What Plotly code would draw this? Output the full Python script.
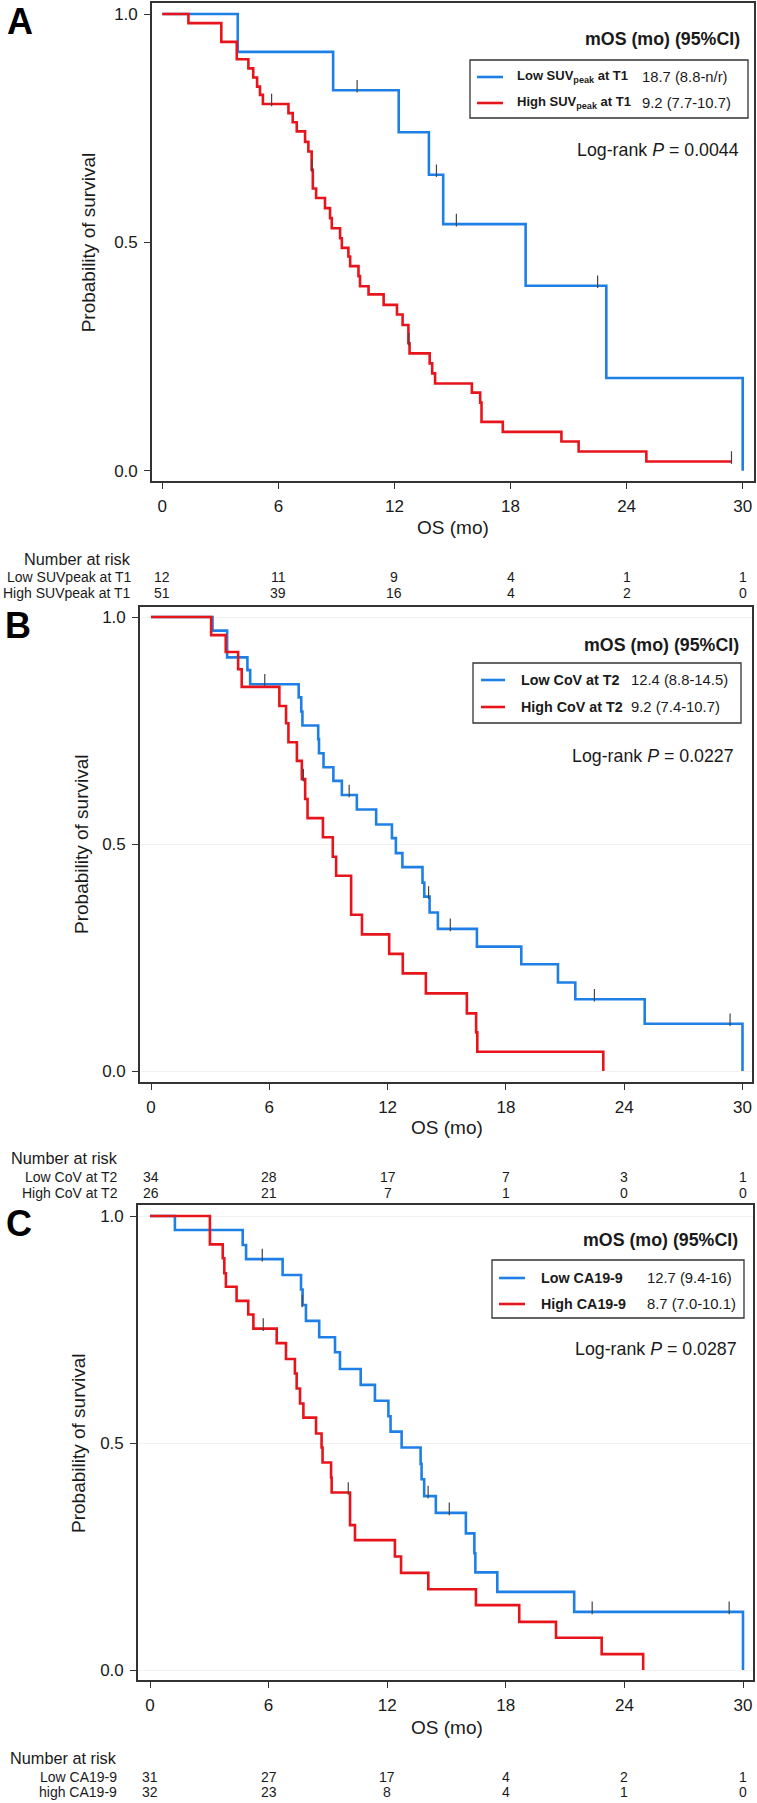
import plotly.graph_objects as go

W, H = 757, 1803

# ---- Panel A : SUVpeak at T1 ----
a_low_t = [0, 3.9, 8.83, 12.22, 13.78, 14.52, 18.78, 22.95, 30.0]
a_low_s = [1.0, 0.917, 0.833, 0.741, 0.648, 0.540, 0.405, 0.203, 0.0]
a_low_cens_t = [10.07, 14.17, 15.2, 22.5]
a_low_cens_s = [0.833, 0.648, 0.540, 0.405]

a_high_t = [0, 1.35, 3.05, 3.85, 4.45, 4.7, 4.9, 5.05, 5.2, 6.52, 6.74, 6.95, 7.38, 7.55,
            7.72, 7.78, 7.95, 8.41, 8.67, 8.76, 9.19, 9.28, 9.62, 9.71, 10.14, 10.22, 10.66,
            11.44, 12.13, 12.42, 12.72, 12.78, 13.82, 13.95, 14.1, 16.0, 16.43, 16.5, 17.6,
            20.63, 21.52, 25.02, 29.42]
a_high_s = [1.0, 0.980, 0.939, 0.901, 0.881, 0.861, 0.841, 0.823, 0.803, 0.783, 0.763, 0.743,
            0.720, 0.699, 0.659, 0.618, 0.597, 0.575, 0.553, 0.531, 0.509, 0.488, 0.469, 0.448,
            0.426, 0.404, 0.386, 0.363, 0.342, 0.319, 0.279, 0.257, 0.235, 0.213, 0.191, 0.171,
            0.149, 0.107, 0.085, 0.064, 0.042, 0.020, 0.020]
a_high_cens_t = [5.65, 7.74, 12.75, 29.42]
a_high_cens_s = [0.803, 0.659, 0.279, 0.020]

# ---- Panel B : CoV at T2 ----
b_low_t = [0, 3.12, 3.86, 4.89, 5.03, 7.49, 7.62, 7.68, 8.48, 8.52, 8.75, 9.25, 9.68, 10.44,
           11.42, 12.22, 12.42, 12.75, 13.77, 13.86, 14.13, 14.55, 16.53, 18.78, 20.64, 21.52,
           25.04, 30.0]
b_low_s = [1.0, 0.970, 0.911, 0.883, 0.852, 0.823, 0.792, 0.761, 0.731, 0.700, 0.669, 0.639,
           0.608, 0.576, 0.543, 0.513, 0.480, 0.449, 0.415, 0.384, 0.349, 0.313, 0.274, 0.235,
           0.195, 0.158, 0.104, 0.0]
b_low_cens_t = [5.77, 10.05, 14.08, 15.18, 22.49, 29.37]
b_low_cens_s = [0.852, 0.608, 0.384, 0.313, 0.158, 0.104]

b_high_t = [0, 3.05, 3.79, 4.42, 4.6, 6.51, 6.85, 6.97, 7.4, 7.65, 7.82, 7.94, 8.72, 9.22,
            9.39, 10.15, 10.7, 12.08, 12.77, 13.94, 16.02, 16.49, 16.55, 22.94]
b_high_s = [1.0, 0.960, 0.923, 0.885, 0.846, 0.804, 0.766, 0.724, 0.683, 0.643, 0.599, 0.557,
            0.515, 0.472, 0.430, 0.344, 0.301, 0.258, 0.215, 0.171, 0.127, 0.085, 0.0425, 0.0]
b_high_cens_t = [7.73]
b_high_cens_s = [0.643]

# ---- Panel C : CA19-9 ----
c_low_t = [0, 1.26, 4.69, 4.86, 6.71, 7.64, 7.72, 7.89, 8.56, 9.36, 9.61, 10.66, 11.38, 12.06,
           12.17, 12.73, 13.69, 13.74, 13.87, 14.46, 15.98, 16.41, 16.46, 17.57, 21.46, 30.0]
c_low_s = [1.0, 0.969, 0.936, 0.905, 0.870, 0.838, 0.804, 0.769, 0.733, 0.700, 0.663, 0.628,
           0.593, 0.559, 0.525, 0.490, 0.454, 0.420, 0.383, 0.346, 0.301, 0.257, 0.215, 0.172,
           0.128, 0.0]
c_low_cens_t = [5.68, 7.7, 14.07, 15.14, 22.37, 29.3]
c_low_cens_s = [0.905, 0.804, 0.383, 0.346, 0.128, 0.128]

c_high_t = [0, 3.03, 3.68, 3.76, 3.84, 4.38, 4.97, 5.23, 6.41, 6.88, 7.33, 7.42, 7.59, 7.76,
            8.40, 8.68, 8.73, 9.16, 9.19, 10.12, 10.37, 12.39, 12.7, 14.08, 16.49, 18.68,
            20.54, 22.85, 24.95]
c_high_s = [1.0, 0.9375, 0.907, 0.874, 0.844, 0.813, 0.783, 0.752, 0.720, 0.685, 0.653, 0.620,
            0.587, 0.556, 0.521, 0.490, 0.457, 0.424, 0.391, 0.319, 0.286, 0.250, 0.214, 0.178,
            0.143, 0.106, 0.071, 0.035, 0.0]
c_high_cens_t = [5.73, 10.03]
c_high_cens_s = [0.752, 0.391]

# ---- text / risk tables ----
risk_times = [0, 6, 12, 18, 24, 30]
a_risk_labels = ["Low SUVpeak at T1", "High SUVpeak at T1"]
a_risk_low = [12, 11, 9, 4, 1, 1]
a_risk_high = [51, 39, 16, 4, 2, 0]
b_risk_labels = ["Low CoV at T2", "High CoV at T2"]
b_risk_low = [34, 28, 17, 7, 3, 1]
b_risk_high = [26, 21, 7, 1, 0, 0]
c_risk_labels = ["Low CA19-9", "high CA19-9"]
c_risk_low = [31, 27, 17, 4, 2, 1]
c_risk_high = [32, 23, 8, 4, 1, 0]

a_legend_labels = ["Low SUV<sub>peak</sub> at T1", "High SUV<sub>peak</sub> at T1"]
a_legend_values = ["18.7 (8.8-n/r)", "9.2 (7.7-10.7)"]
b_legend_labels = ["Low CoV at T2", "High CoV at T2"]
b_legend_values = ["12.4 (8.8-14.5)", "9.2 (7.4-10.7)"]
c_legend_labels = ["Low CA19-9", "High CA19-9"]
c_legend_values = ["12.7 (9.4-16)", "8.7 (7.0-10.1)"]
p_values = ["0.0044", "0.0227", "0.0287"]
panel_letters = ["A", "B", "C"]

BLUE = "#1E80E6"
RED = "#E8141B"
FONT = "Liberation Sans, Arial, sans-serif"
TXT = "#1a1a1a"


def px_x(p):
    return p / W


def px_y(p):
    return 1 - p / H


# pixel geometry of each panel (layout only)
panels = [
    dict(ax="", left=152, right=754, top=3, bottom=481, x0=162.3, x30=742.7, s1=14, s0=470.7,
         grid=False, letter=(20, 22), ytitle_x=88, xtitle_y=528,
         risk_y=(559, 577, 593), risk_right=133,
         mos=(742, 39), box=(470, 60, 748, 118), sample=(477, 503), rows=(77, 103),
         label_x=515, label_size=13.0, value_x=640, logrank=(741, 150),
         curves=[(a_low_t, a_low_s, a_low_cens_t, a_low_cens_s, BLUE),
                 (a_high_t, a_high_s, a_high_cens_t, a_high_cens_s, RED)],
         risk=(a_risk_labels, a_risk_low, a_risk_high),
         legend=(a_legend_labels, a_legend_values)),
    dict(ax="2", left=140, right=752, top=607, bottom=1082, x0=151, x30=742.5, s1=617, s0=1071,
         grid=True, letter=(18, 625), ytitle_x=82, xtitle_y=1127,
         risk_y=(1158, 1177, 1193), risk_right=120,
         mos=(741, 645), box=(473, 663, 741, 723), sample=(481, 505), rows=(680, 707),
         label_x=519, label_size=14.3, value_x=629, logrank=(736, 756),
         curves=[(b_low_t, b_low_s, b_low_cens_t, b_low_cens_s, BLUE),
                 (b_high_t, b_high_s, b_high_cens_t, b_high_cens_s, RED)],
         risk=(b_risk_labels, b_risk_low, b_risk_high),
         legend=(b_legend_labels, b_legend_values)),
    dict(ax="3", left=138, right=753, top=1205, bottom=1680, x0=150, x30=743, s1=1216, s0=1670,
         grid=True, letter=(19, 1223), ytitle_x=78, xtitle_y=1727,
         risk_y=(1758, 1777, 1792), risk_right=119,
         mos=(740, 1240), box=(492, 1260, 744, 1318), sample=(499, 525), rows=(1278, 1304),
         label_x=539, label_size=14.3, value_x=645, logrank=(739, 1349),
         curves=[(c_low_t, c_low_s, c_low_cens_t, c_low_cens_s, BLUE),
                 (c_high_t, c_high_s, c_high_cens_t, c_high_cens_s, RED)],
         risk=(c_risk_labels, c_risk_low, c_risk_high),
         legend=(c_legend_labels, c_legend_values)),
]

fig = go.Figure()
annotations = []
shapes = []
layout_axes = {}

for i, p in enumerate(panels):
    xname, yname = "x" + p["ax"], "y" + p["ax"]
    xs = (p["x30"] - p["x0"]) / 30.0
    ys = p["s0"] - p["s1"]
    xr = [(p["left"] - p["x0"]) / xs, (p["right"] - p["x0"]) / xs]
    yr = [(p["s0"] - p["bottom"]) / ys, (p["s0"] - p["top"]) / ys]
    tick_off = 4.0 / ys

    for t, s, ct, cs, col in p["curves"]:
        fig.add_trace(go.Scatter(
            x=t, y=s, mode="lines", line=dict(color=col, width=2.6, shape="hv"),
            xaxis=xname, yaxis=yname, showlegend=False, hoverinfo="skip"))
        fig.add_trace(go.Scatter(
            x=ct, y=[v + tick_off for v in cs], mode="markers",
            marker=dict(symbol="line-ns", size=9, line=dict(width=1.2, color="#444")),
            xaxis=xname, yaxis=yname, showlegend=False, hoverinfo="skip"))

    layout_axes["xaxis" + p["ax"]] = dict(
        domain=[px_x(p["left"]), px_x(p["right"])], range=xr, anchor=yname,
        tickvals=risk_times, ticks="outside", ticklen=6, tickwidth=1.3, tickcolor="#333",
        showline=True, linecolor="#333", linewidth=1.6, mirror=True,
        showgrid=False, zeroline=False, ticklabelstandoff=3,
        tickfont=dict(family=FONT, size=17, color=TXT), fixedrange=True)
    layout_axes["yaxis" + p["ax"]] = dict(
        domain=[px_y(p["bottom"]), px_y(p["top"])], range=yr, anchor=xname,
        tickvals=[0, 0.5, 1.0], ticktext=["0.0", "0.5", "1.0"],
        ticks="outside", ticklen=6, tickwidth=1.3, tickcolor="#333",
        showline=True, linecolor="#333", linewidth=1.6, mirror=True,
        showgrid=p["grid"], gridcolor="#f1f1f1", gridwidth=1, zeroline=False,
        ticklabelstandoff=3,
        tickfont=dict(family=FONT, size=17, color=TXT), fixedrange=True)

    # panel letter
    annotations.append(dict(
        x=px_x(p["letter"][0]), y=px_y(p["letter"][1]), xref="paper", yref="paper",
        text="<b>%s</b>" % panel_letters[i], showarrow=False,
        font=dict(family=FONT, size=36, color="black"), xanchor="center", yanchor="middle"))
    # axis titles
    annotations.append(dict(
        x=px_x(p["ytitle_x"]), y=0.5, xref="paper", yref=yname,
        text="Probability of survival", textangle=-90, showarrow=False,
        font=dict(family=FONT, size=19, color=TXT), xanchor="center", yanchor="middle"))
    annotations.append(dict(
        x=15, y=px_y(p["xtitle_y"]), xref=xname, yref="paper", text="OS (mo)",
        showarrow=False, font=dict(family=FONT, size=19, color=TXT),
        xanchor="center", yanchor="middle"))

    # mOS header, legend box, log-rank
    annotations.append(dict(
        x=px_x(p["mos"][0]), y=px_y(p["mos"][1]), xref="paper", yref="paper",
        text="<b>mOS (mo) (95%CI)</b>", showarrow=False,
        font=dict(family=FONT, size=17.8, color=TXT), xanchor="right", yanchor="middle"))
    bx0, by0, bx1, by1 = p["box"]
    shapes.append(dict(type="rect", xref="paper", yref="paper",
                       x0=px_x(bx0), x1=px_x(bx1), y0=px_y(by1), y1=px_y(by0),
                       line=dict(color="#333", width=1.3), fillcolor="rgba(0,0,0,0)"))
    labels, values = p["legend"]
    for row_y, col, lab, val in zip(p["rows"], [BLUE, RED], labels, values):
        shapes.append(dict(type="line", xref="paper", yref="paper",
                           x0=px_x(p["sample"][0]), x1=px_x(p["sample"][1]),
                           y0=px_y(row_y), y1=px_y(row_y), line=dict(color=col, width=2.6)))
        annotations.append(dict(
            x=px_x(p["label_x"]), y=px_y(row_y), xref="paper", yref="paper",
            text="<b>%s</b>" % lab, showarrow=False,
            font=dict(family=FONT, size=p["label_size"], color=TXT),
            xanchor="left", yanchor="middle"))
        annotations.append(dict(
            x=px_x(p["value_x"]), y=px_y(row_y), xref="paper", yref="paper",
            text=val, showarrow=False,
            font=dict(family=FONT, size=14.8, color=TXT), xanchor="left", yanchor="middle"))
    annotations.append(dict(
        x=px_x(p["logrank"][0]), y=px_y(p["logrank"][1]), xref="paper", yref="paper",
        text="Log-rank <i>P</i> = %s" % p_values[i], showarrow=False,
        font=dict(family=FONT, size=17.8, color=TXT), xanchor="right", yanchor="middle"))

    # number at risk table
    ny, r1, r2 = p["risk_y"]
    annotations.append(dict(
        x=px_x(p["risk_right"]), y=px_y(ny), xref="paper", yref="paper",
        text="Number at risk", showarrow=False,
        font=dict(family=FONT, size=16.3, color=TXT), xanchor="right", yanchor="middle"))
    rlabels, rlow, rhigh = p["risk"]
    for row_y, lab, counts in [(r1, rlabels[0], rlow), (r2, rlabels[1], rhigh)]:
        annotations.append(dict(
            x=px_x(p["risk_right"]), y=px_y(row_y), xref="paper", yref="paper",
            text=lab, showarrow=False,
            font=dict(family=FONT, size=14, color=TXT), xanchor="right", yanchor="middle"))
        for tm, n in zip(risk_times, counts):
            annotations.append(dict(
                x=tm, y=px_y(row_y), xref=xname, yref="paper", text=str(n),
                showarrow=False, font=dict(family=FONT, size=14, color=TXT),
                xanchor="center", yanchor="middle"))

fig.update_layout(
    width=W, height=H,
    margin=dict(l=0, r=0, t=0, b=0),
    paper_bgcolor="white", plot_bgcolor="white",
    showlegend=False,
    annotations=annotations,
    shapes=shapes,
    **layout_axes,
)

# the page must not add its own margin or scrollbars around the fixed-size figure
fig.write_html(
    "out.html",
    config={"displayModeBar": False},
    post_script="document.body.style.margin='0';document.body.style.overflow='hidden';",
)
